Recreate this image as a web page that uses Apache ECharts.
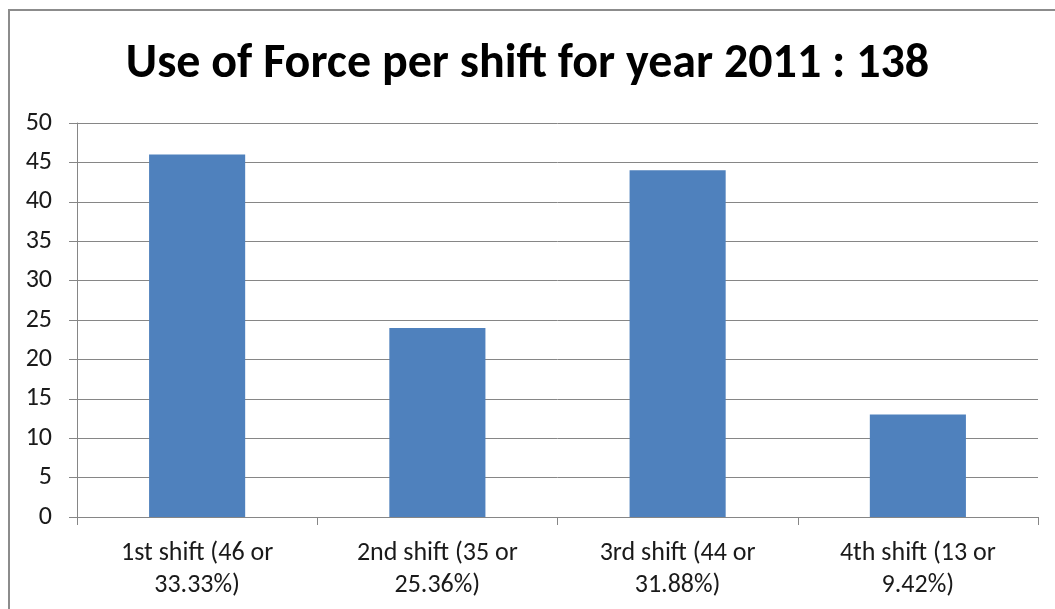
<!DOCTYPE html>
<html>
<head>
<meta charset="utf-8">
<script src="https://cdn.jsdelivr.net/npm/echarts@6/dist/echarts.min.js"></script>
<style>
    body { margin: 0; background: #fff; }
    #chart { width: 1055px; height: 609px; }
</style>
</head>
<body>
<div id="chart"></div>
<script>
    // data
    var shifts = [
        '1st shift (46 or\n33.33%)',
        '2nd shift (35 or\n25.36%)',
        '3rd shift (44 or\n31.88%)',
        '4th shift (13 or\n9.42%)'
    ];
    var counts = [46, 24, 44, 13];
    var yTicks = [0, 5, 10, 15, 20, 25, 30, 35, 40, 45, 50];

    var font = 'Carlito, Lato, "Open Sans", sans-serif';
    var myChart = echarts.init(document.getElementById('chart'));
    myChart.setOption({
        animation: false,
        title: {
            text: 'Use of Force per shift for year 2011 : 138',
            left: 'center',
            top: 36,
            textStyle: {
                fontFamily: font,
                fontSize: 48,
                fontWeight: 'bold',
                color: '#000'
            }
        },
        graphic: [{
            type: 'rect',
            shape: { x: 9, y: 10, width: 1200, height: 800 },
            style: { fill: 'none', stroke: '#8c8c8c', lineWidth: 2 }
        }],
        grid: {
            left: 77,
            right: 17,
            top: 123,
            bottom: 92
        },
        xAxis: {
            type: 'category',
            data: shifts,
            axisLine: { lineStyle: { color: '#868686', width: 1 } },
            axisTick: { show: true, length: 8, lineStyle: { color: '#868686' } },
            axisLabel: {
                fontFamily: font,
                fontSize: 26,
                color: '#1a1a1a',
                lineHeight: 32,
                margin: 20
            }
        },
        yAxis: {
            type: 'value',
            min: yTicks[0],
            max: yTicks[yTicks.length - 1],
            interval: 5,
            axisLine: { show: true, lineStyle: { color: '#868686', width: 1 } },
            axisTick: { show: true, length: 8, lineStyle: { color: '#868686' } },
            splitLine: { lineStyle: { color: '#868686', width: 1 } },
            axisLabel: {
                fontFamily: font,
                fontSize: 26,
                color: '#1a1a1a',
                margin: 25
            }
        },
        series: [{
            type: 'bar',
            data: counts,
            barWidth: '40%',
            itemStyle: { color: '#4f81bd' }
        }]
    });
</script>
</body>
</html>
